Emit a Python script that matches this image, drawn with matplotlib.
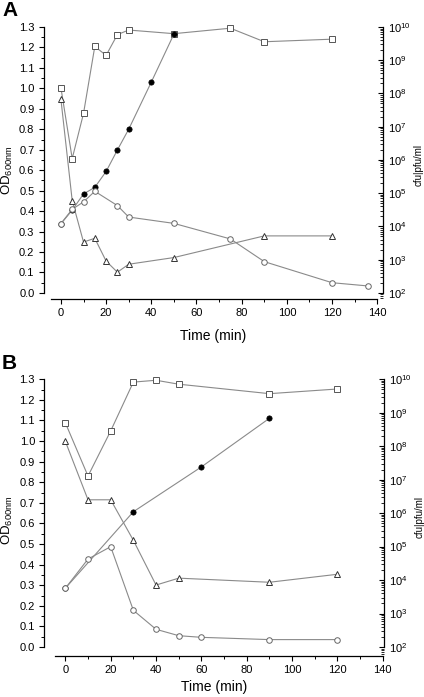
import matplotlib
matplotlib.use("Agg")
import matplotlib.pyplot as plt
from matplotlib.ticker import MultipleLocator, LogLocator, NullFormatter, FixedLocator

plt.rcParams["font.family"] = ["Liberation Sans", "DejaVu Sans"]
plt.rcParams["mathtext.default"] = "regular"

# ---- panel A ----
a_sq_t = [0, 5, 10, 15, 20, 25, 30, 50, 75, 90, 120]
a_sq = [1.5e8, 1.1e6, 2.5e7, 2.6e9, 1.4e9, 5.9e9, 8.1e9, 6.3e9, 9.2e9, 3.6e9, 4.3e9]

a_tri_t = [0, 5, 10, 15, 20, 25, 30, 50, 90, 120]
a_tri = [6.7e7, 6.0e4, 3.4e3, 4.4e3, 9.1e2, 4.2e2, 7.3e2, 1.16e3, 5.2e3, 5.2e3]

a_fill_t = [0, 5, 10, 15, 20, 25, 30, 40, 50]
a_fill = [1.2e4, 3.1e4, 9.5e4, 1.5e5, 4.5e5, 2.0e6, 8.4e6, 2.2e8, 6.1e9]

a_od_t = [0, 5, 10, 15, 25, 30, 50, 75, 90, 120, 136]
a_od = [0.339, 0.409, 0.445, 0.497, 0.427, 0.371, 0.340, 0.264, 0.153, 0.050, 0.034]

# ---- panel B ----
b_sq_t = [0, 10, 20, 30, 40, 50, 90, 120]
b_sq = [5.0e8, 1.28e7, 2.85e8, 8.2e9, 9.3e9, 7.1e9, 3.7e9, 5.1e9]

b_tri_t = [0, 10, 20, 30, 40, 50, 90, 120]
b_tri = [1.4e8, 2.5e6, 2.5e6, 1.54e5, 7.1e3, 1.14e4, 8.6e3, 1.49e4]

b_fill_t = [0, 30, 60, 90]
b_fill = [5.7e3, 1.1e6, 2.4e7, 6.8e8]

b_od_t = [0, 10, 20, 30, 40, 50, 60, 90, 120]
b_od = [0.285, 0.427, 0.487, 0.178, 0.086, 0.055, 0.047, 0.036, 0.036]

LINE = "#8a8a8a"
EDGE = "#555555"


def od_to_log(y):
    # both left and right axes share the same frame: 0..1.3 <-> 1e2..1e10
    return 10 ** (2 + 8 * y / 1.3)


def draw_panel(fig, rect, xlim, ylim, xstart, letter, letter_y, sq, tri, fill, od,
               od_label_y, right_label_y, xlabelpad):
    ax = fig.add_axes(rect)
    ax2 = ax.twinx()
    ax.set_zorder(ax2.get_zorder() + 1)
    ax.patch.set_visible(False)

    ax2.set_yscale("log")
    ax2.plot(*sq, color=LINE, lw=0.8, marker="s", ms=3.8, mfc="white", mec=EDGE, mew=0.7)
    ax2.plot(*tri, color=LINE, lw=0.8, marker="^", ms=5.0, mfc="white", mec="#333333", mew=0.7)
    ax2.plot(*fill, color=LINE, lw=0.8, marker="o", ms=3.8, mfc="black", mec="black", mew=0.5)
    ax.plot(*od, color=LINE, lw=0.8, marker="o", ms=4.0, mfc="white", mec="#666666", mew=0.7)

    ax.set_xlim(*xlim)
    ax.set_ylim(*ylim)
    ax2.set_ylim(od_to_log(ylim[0]), od_to_log(ylim[1]))

    for s in ("top", "right"):
        ax.spines[s].set_visible(False)
    for s in ("top", "left", "bottom"):
        ax2.spines[s].set_visible(False)
    ax.spines["left"].set_bounds(0, 1.3)
    ax.spines["bottom"].set_bounds(xstart, 140)
    ax2.spines["right"].set_bounds(1e2, 1e10)
    for sp in (ax.spines["left"], ax.spines["bottom"], ax2.spines["right"]):
        sp.set_linewidth(0.9)

    ax.xaxis.set_major_locator(FixedLocator(range(0, 141, 20)))
    ax.xaxis.set_minor_locator(FixedLocator(range(10, 141, 20)))
    ax.yaxis.set_major_locator(MultipleLocator(0.1))
    ax.yaxis.set_minor_locator(FixedLocator([i * 0.1 + 0.05 for i in range(13)]))
    ax.set_yticklabels([f"{v:.1f}" for v in ax.get_yticks()])
    ax.tick_params(axis="both", which="major", direction="out", length=3.5, width=0.8,
                   labelsize=8, pad=3)
    ax.tick_params(axis="both", which="minor", direction="out", length=2, width=0.7)

    ax2.yaxis.set_major_locator(FixedLocator([10 ** k for k in range(2, 11)]))
    ax2.yaxis.set_minor_locator(LogLocator(base=10, subs=range(2, 10), numticks=20))
    ax2.yaxis.set_minor_formatter(NullFormatter())
    ax2.set_yticklabels([f"$10^{{{k}}}$" for k in range(2, 11)])
    ax2.tick_params(axis="y", which="major", direction="in", length=3.5, width=0.8,
                    labelsize=8, pad=4)
    ax2.tick_params(axis="y", which="minor", direction="in", length=2, width=0.6)

    ax.set_xlabel("Time (min)", fontsize=10, labelpad=xlabelpad)
    ax.set_ylabel("OD$_{600nm}$", fontsize=9.5)
    ax.yaxis.set_label_coords(-0.085, od_label_y)
    ax2.set_ylabel("cfu|pfu/ml", fontsize=7)
    ax2.yaxis.set_label_coords(1.092, right_label_y)

    fig.text(0.005, letter_y, letter, fontsize=15, fontweight="bold", va="top", ha="left")
    return ax


fig = plt.figure(figsize=(4.24, 6.97), dpi=100)

draw_panel(fig, [0.1026, 0.5715, 0.800, 0.3927], (-7.7, 142.4), (-0.028, 1.31), -4.4,
           "A", 0.999, (a_sq_t, a_sq), (a_tri_t, a_tri), (a_fill_t, a_fill), (a_od_t, a_od),
           0.47, 0.49, 8)
draw_panel(fig, [0.1038, 0.0593, 0.8012, 0.3996], (-9.4, 140.4), (-0.042, 1.31), -4.6,
           "B", 1 - 354 / 697, (b_sq_t, b_sq), (b_tri_t, b_tri), (b_fill_t, b_fill),
           (b_od_t, b_od), 0.487, 0.498, 4)

fig.savefig("out.png", dpi=100)
